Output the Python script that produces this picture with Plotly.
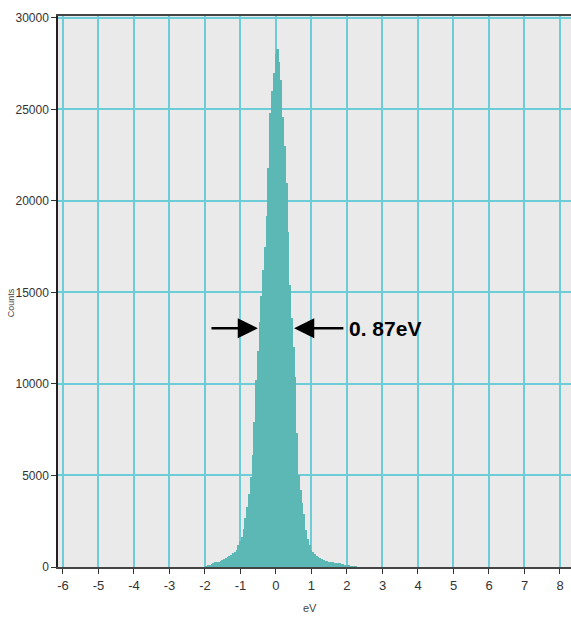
import plotly.graph_objects as go

# Energy-loss histogram: bin centres (eV) and counts per bin
bin_width = 0.05
energy_ev = [round(-2.0 + i * bin_width, 2) for i in range(86)]
counts = [
    0, 30, 60, 110, 170, 220, 250, 280, 300, 330,
    370, 420, 480, 530, 600, 680, 750, 840, 950, 1200,
    1400, 1650, 2100, 2700, 3300, 4000, 4900, 6100, 7900, 10200,
    11800, 13400, 14800, 16200, 17500, 19200, 21800, 24800, 26000, 27000,
    28000, 28300, 27600, 26600, 24600, 23000, 21000, 18300, 15400, 13600,
    12000, 10400, 7300, 5000, 4200, 3500, 2900, 2000, 1550, 1200,
    950, 820, 720, 620, 540, 480, 430, 390, 350, 320,
    300, 280, 260, 240, 230, 220, 200, 170, 140, 110,
    90, 70, 50, 30, 20, 10,
]

x_ticks = list(range(-6, 9))
y_ticks = [0, 5000, 10000, 15000, 20000, 25000, 30000]

# FWHM marker
fwhm_label = "0. 87eV"
fwhm_left, fwhm_right, fwhm_level = -0.51, 0.51, 13040

teal = "#5bb8b5"
grid = "#6ccdd9"
font_narrow = "Liberation Sans Narrow, Arial Narrow, Liberation Sans, sans-serif"

fig = go.Figure()
fig.add_trace(go.Bar(
    x=energy_ev, y=counts, width=bin_width,
    marker=dict(color=teal, line=dict(width=0)),
    showlegend=False,
))

fig.update_layout(
    width=571, height=620,
    margin=dict(l=58, r=0, t=16, b=53),
    paper_bgcolor="white",
    plot_bgcolor="#eaeaea",
    bargap=0,
    font=dict(family=font_narrow, size=12, color="#333"),
    xaxis=dict(
        range=[-6.14, 8.31],
        tickvals=x_ticks,
        ticktext=[str(v) for v in x_ticks],
        showgrid=True, gridcolor=grid, gridwidth=1.6,
        zeroline=False,
        showline=True, linecolor="#444", linewidth=2, mirror=True,
        ticks="outside", ticklen=5, tickcolor="#333", tickwidth=1,
        tickfont=dict(size=13, family=font_narrow, color="#333"),
    ),
    yaxis=dict(
        range=[0, 30100],
        tickvals=y_ticks,
        ticktext=[str(v) for v in y_ticks],
        showgrid=True, gridcolor=grid, gridwidth=1.6,
        zeroline=False,
        showline=True, linecolor="#222", linewidth=1.5,
        ticks="outside", ticklen=5, tickcolor="#333", tickwidth=1,
        tickfont=dict(size=12, family=font_narrow, color="#333"),
    ),
)

annotations = [
    # axis titles
    dict(text="eV", xref="x", yref="paper", x=0.97, y=-0.075,
         xanchor="center", yanchor="middle", showarrow=False,
         font=dict(size=11, family=font_narrow, color="#444")),
    dict(text="Counts", xref="paper", yref="paper", x=-0.092, y=0.48,
         xanchor="center", yanchor="middle", showarrow=False, textangle=-90,
         font=dict(size=9, family="Liberation Sans, sans-serif", color="#444")),
    # FWHM arrows pointing inward to the peak edges
    dict(x=fwhm_left, y=fwhm_level, ax=-1.86, ay=fwhm_level,
         xref="x", yref="y", axref="x", ayref="y", text="",
         showarrow=True, arrowhead=2, arrowsize=1.55, arrowwidth=2.6,
         arrowcolor="black"),
    dict(x=fwhm_right, y=fwhm_level, ax=1.94, ay=fwhm_level,
         xref="x", yref="y", axref="x", ayref="y", text="",
         showarrow=True, arrowhead=2, arrowsize=1.55, arrowwidth=2.6,
         arrowcolor="black"),
    dict(text="<b>" + fwhm_label + "</b>", x=2.0, y=fwhm_level,
         xref="x", yref="y", xanchor="left", yanchor="middle",
         showarrow=False,
         font=dict(size=21, family=font_narrow, color="black")),
]
fig.update_layout(annotations=annotations)

fig.write_html("out.html")
